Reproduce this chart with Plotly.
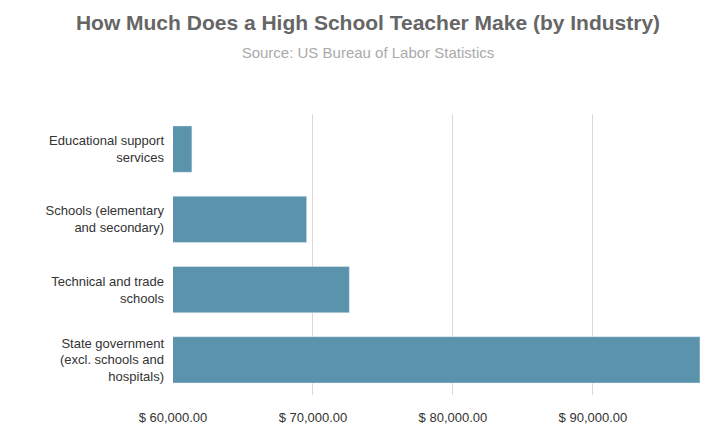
import plotly.graph_objects as go

industries = ["Educational support<br>services",
              "Schools (elementary<br>and secondary)",
              "Technical and trade<br>schools",
              "State government<br>(excl. schools and<br>hospitals)"]
salaries = [61350, 69550, 72600, 97650]
tick_vals = [60000, 70000, 80000, 90000]
tick_text = ["$ 60,000.00", "$ 70,000.00", "$ 80,000.00", "$ 90,000.00"]

fig = go.Figure(go.Bar(
    x=salaries, y=industries, orientation="h",
    base=0, marker_color="#5b93ad", width=0.66,
))

fig.update_layout(
    width=720, height=445,
    paper_bgcolor="white", plot_bgcolor="white",
    margin=dict(l=165, r=28, t=106, b=58),
    font=dict(family="Liberation Sans, Arial", color="#333333", size=13),
    title=dict(text="<b>How Much Does a High School Teacher Make (by Industry)</b>"
                    "<br><span style='font-size:15px;color:#aaaaaa'>Source: US Bureau of Labor Statistics</span>",
               x=0.5, xanchor="center", y=0.95, yanchor="top",
               font=dict(size=21, color="#666666")),
    showlegend=False,
)
fig.update_xaxes(range=[60000, 97650], tickvals=tick_vals, ticktext=tick_text,
                 showgrid=True, gridcolor="#d9d9d9", zeroline=False, automargin=False,
                 ticks="outside", ticklen=10, tickcolor="white",
                 tickfont=dict(size=13, color="#333333"))
fig.update_yaxes(autorange="reversed", ticks="", ticklabelstandoff=8, automargin=False,
                 tickfont=dict(size=13, color="#333333"))

fig.write_html("out.html")
